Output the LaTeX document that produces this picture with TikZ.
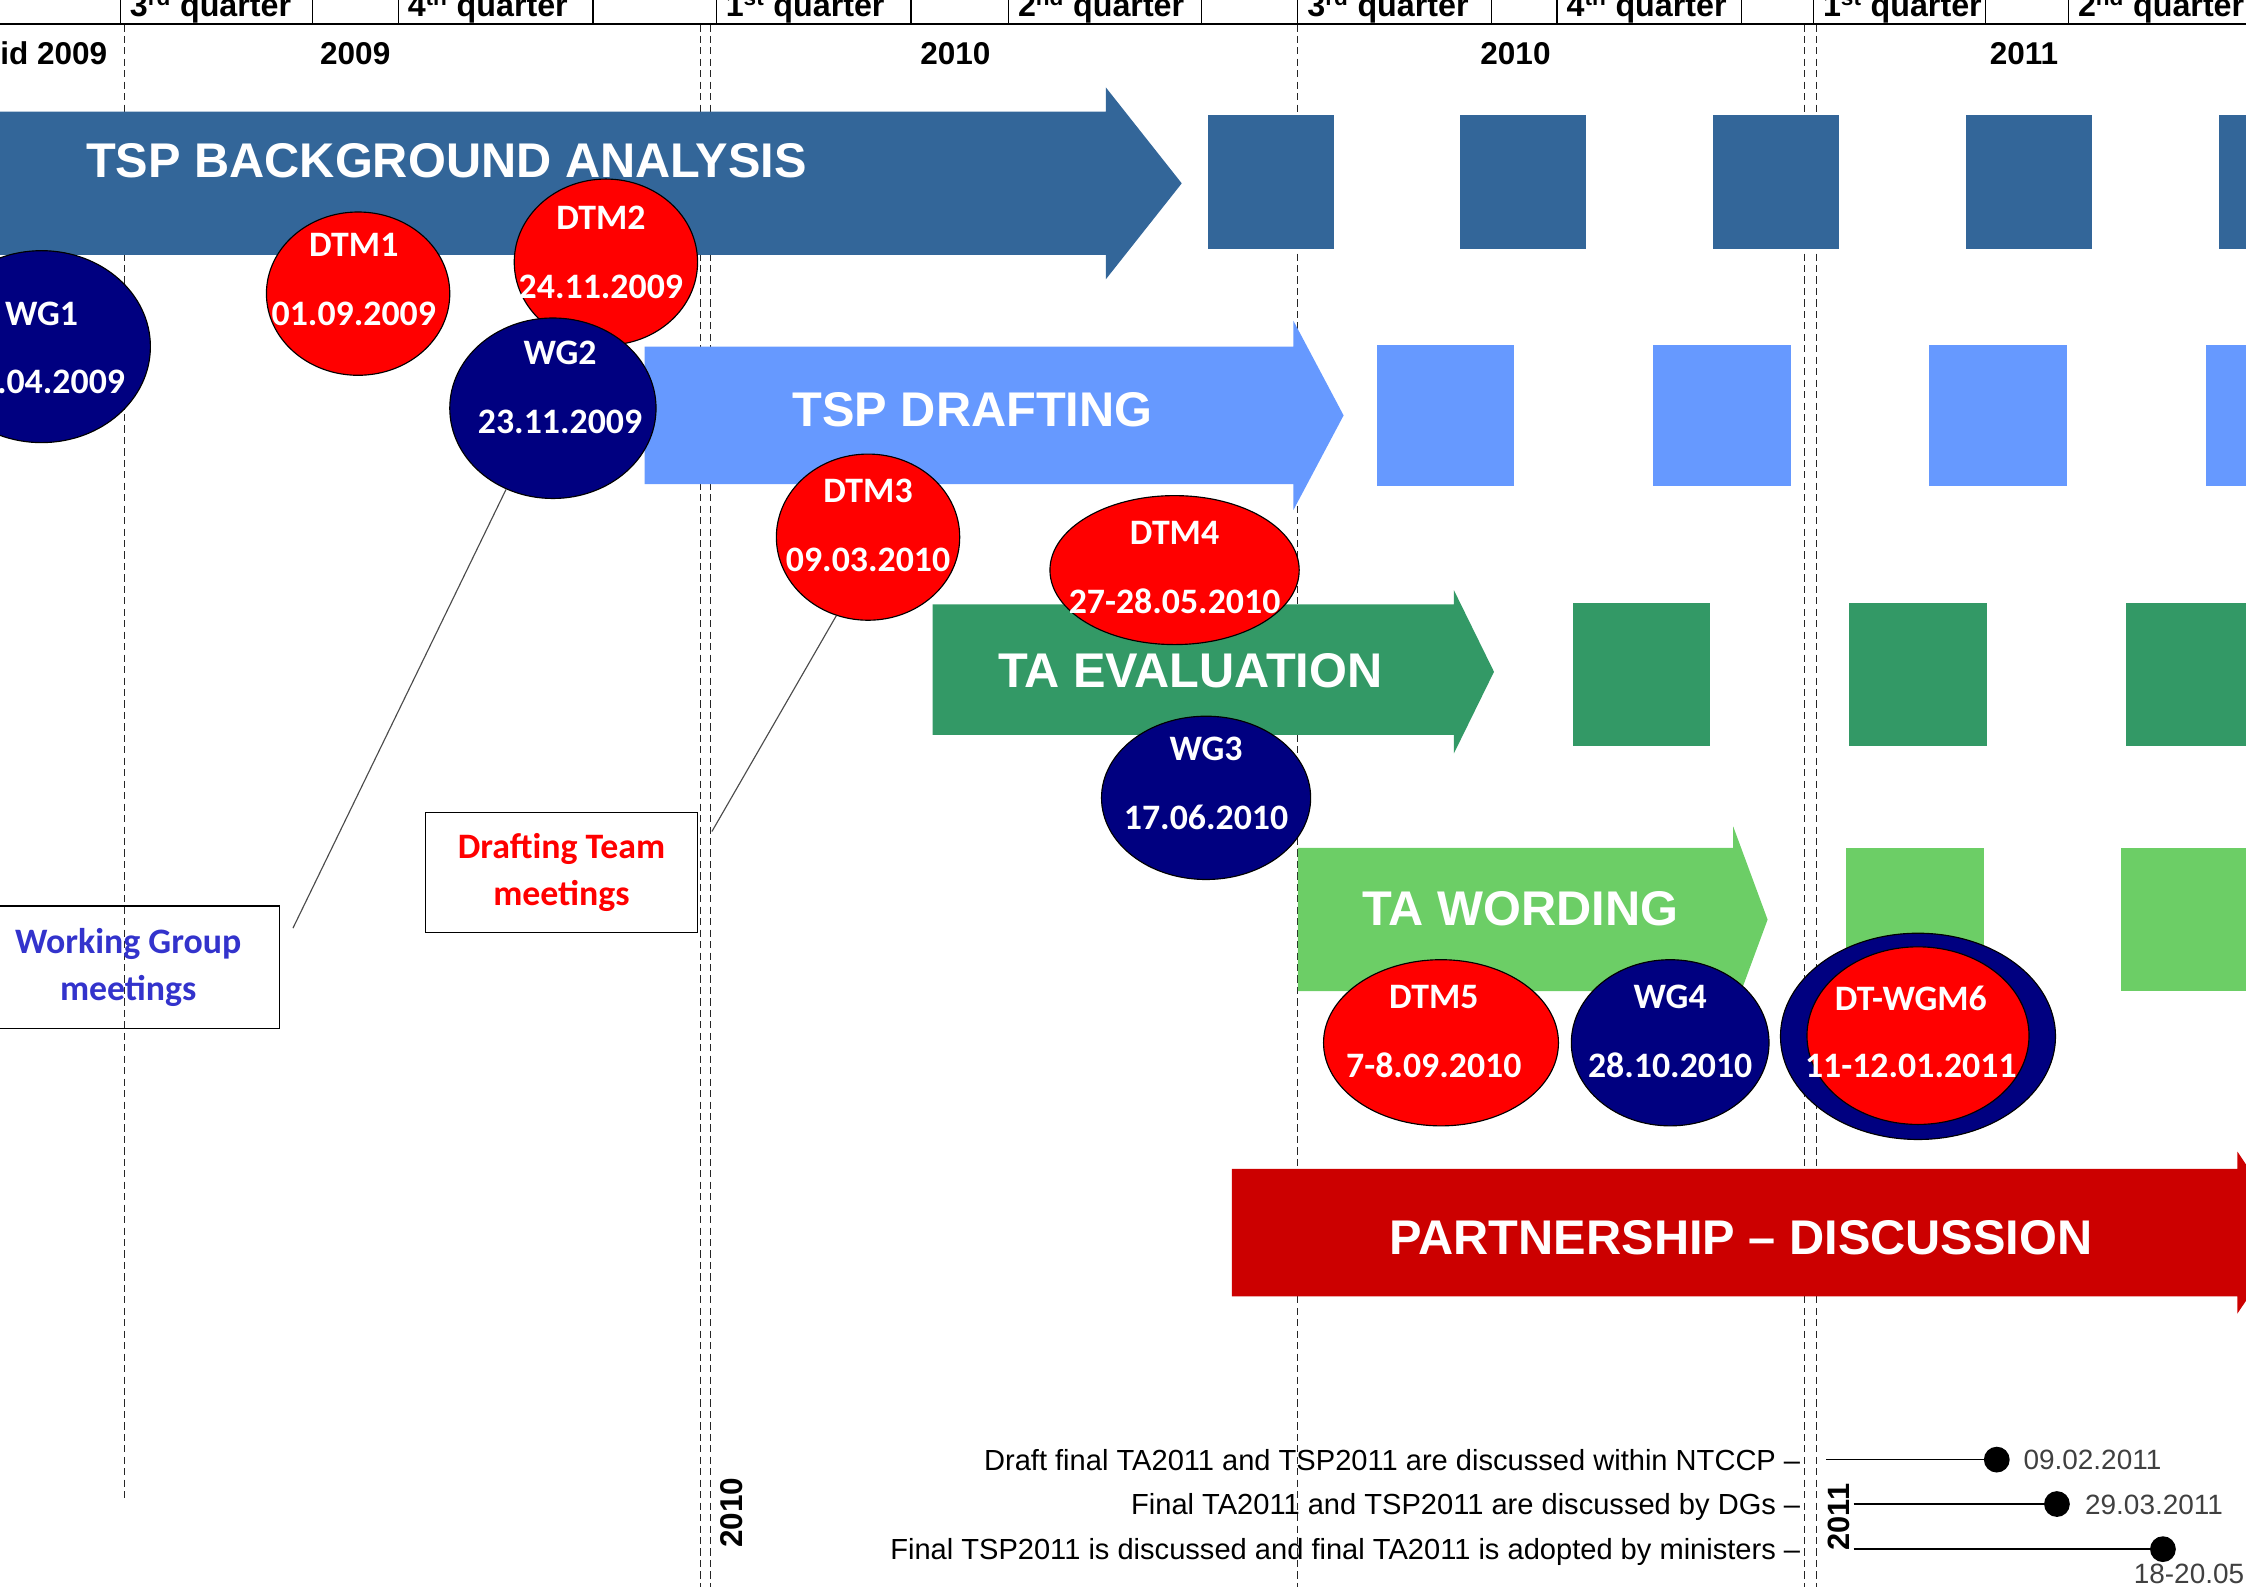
\documentclass[tikz,border=0pt]{standalone}
\usepackage{fontspec}
\setmainfont{Liberation Sans}
\newfontfamily\carlitofont{Carlito}
\usetikzlibrary{shapes.geometric}

\definecolor{bgblue}{RGB}{51,102,153}
\definecolor{draftblue}{RGB}{102,153,255}
\definecolor{evalgreen}{RGB}{51,153,102}
\definecolor{wordgreen}{RGB}{108,206,102}
\definecolor{partred}{RGB}{204,0,0}
\definecolor{wgnavy}{RGB}{0,0,128}
\definecolor{dtred}{RGB}{255,0,0}
\definecolor{wgtext}{RGB}{51,51,204}
\definecolor{datetext}{RGB}{64,64,64}

\begin{document}
\begin{tikzpicture}[x=1pt,y=-1pt,
  gridline/.style={black!85, line width=0.9pt, dash pattern=on 5pt off 3pt},
  qlabel/.style={anchor=base west, inner sep=0, font=\bfseries\fontsize{22.5}{26}\selectfont},
  ylabel/.style={anchor=base, inner sep=0, font=\bfseries\fontsize{22}{26}\selectfont},
  phasetext/.style={anchor=base, inner sep=0, text=white, font=\bfseries\fontsize{34}{40}\selectfont},
  meet/.style={ellipse, inner sep=0, draw=black, line width=0.8pt},
  wgm/.style={meet, fill=wgnavy},
  dtm/.style={meet, fill=dtred},
  mtext/.style={inner sep=0, align=center, text=white, font=\carlitofont\bfseries\fontsize{25}{48}\selectfont},
  notebox/.style={draw=black, line width=0.8pt, inner sep=0, align=center, font=\carlitofont\bfseries\fontsize{25}{33}\selectfont},
  lead/.style={black!70, line width=0.8pt},
  mstone/.style={anchor=base east, inner sep=0, font=\fontsize{20.3}{24}\selectfont},
  mdate/.style={anchor=base west, inner sep=0, text=datetext, font=\fontsize{19.5}{24}\selectfont},
  mline/.style={black, line width=1.2pt},
  mdot/.style={circle, fill=black, inner sep=0, minimum size=18pt},
  vyear/.style={rotate=90, inner sep=0, font=\bfseries\fontsize{22}{26}\selectfont},
]
\useasboundingbox (0,0) rectangle (1568,1108);
\clip (0,0) rectangle (1568,1108);

% ---------- time grid ----------
\draw[gridline] (87,17) -- (87,1048);
\draw[gridline] (489,17) -- (489,1108);
\draw[gridline] (496,17) -- (496,1108);
\draw[gridline] (906,17) -- (906,1108);
\draw[gridline] (1260,17) -- (1260,1108);
\draw[gridline] (1268,17) -- (1268,1108);

% ---------- header ----------
\draw[line width=1.6pt] (0,17) -- (1568,17);
\foreach \x in {84,218,278,414,500,636,704,839,906,1041,1087,1216,1266,1386,1444}
  \draw[line width=0.9pt] (\x,0) -- (\x,17);
\node[qlabel] (q1) at (90.5,11.6)   {3\textsuperscript{rd} quarter};
\node[qlabel] (q2) at (284.5,11.6)  {4\textsuperscript{th} quarter};
\node[qlabel] (q3) at (506.5,11.6)  {1\textsuperscript{st} quarter};
\node[qlabel] (q4) at (710.5,11.6)  {2\textsuperscript{nd} quarter};
\node[qlabel] (q5) at (912.5,11.6)  {3\textsuperscript{rd} quarter};
\node[qlabel] (q6) at (1093.5,11.6) {4\textsuperscript{th} quarter};
\node[qlabel] (q7) at (1272.5,11.6) {1\textsuperscript{st} quarter};
\node[qlabel] (q8) at (1450.5,11.6) {2\textsuperscript{nd} quarter};

\node[ylabel, anchor=base east] (y0) at (75,45) {id 2009};
\node[ylabel] (y1) at (248,45)  {2009};
\node[ylabel] (y2) at (667,45)  {2010};
\node[ylabel] (y3) at (1058,45) {2010};
\node[ylabel] (y4) at (1413,45) {2011};

% ---------- phase arrows and continuation blocks ----------
\fill[bgblue] (-5,78) -- (772,78) -- (772,61) -- (825,128) -- (772,195) -- (772,178) -- (-5,178) -- cycle;
\foreach \x in {843,1019.5,1196,1372.5,1549}
  \fill[bgblue] (\x,80) rectangle ++(88,94);
\node[phasetext, anchor=base west] (pbg) at (60,124) {TSP BACKGROUND ANALYSIS};

\fill[draftblue] (450,242) -- (903,242) -- (903,224) -- (938,290) -- (903,356) -- (903,338) -- (450,338) -- cycle;
\foreach \x in {961,1154,1347,1540}
  \fill[draftblue] (\x,241) rectangle ++(96,98);
\node[phasetext] (pdr) at (679,298) {TSP DRAFTING};

\fill[evalgreen] (651,422) -- (1015,422) -- (1015,412) -- (1043,469) -- (1015,526) -- (1015,513) -- (651,513) -- cycle;
\foreach \x in {1098,1291,1484}
  \fill[evalgreen] (\x,421) rectangle ++(96,100);
\node[phasetext] (pev) at (831,480) {TA EVALUATION};

\fill[wordgreen] (906,592) -- (1210,592) -- (1210,577) -- (1234,642) -- (1210,707) -- (1210,692) -- (906,692) -- cycle;
\foreach \x in {1289,1481}
  \fill[wordgreen] (\x,592) rectangle ++(96,100);
\node[phasetext] (pwo) at (1061.5,646) {TA WORDING};

\fill[partred] (860,816) -- (1562,816) -- (1562,804) -- (1600,860.5) -- (1562,917) -- (1562,905) -- (860,905) -- cycle;
\node[phasetext] (ppa) at (1215.5,876) {PARTNERSHIP \textendash\ DISCUSSION};

% ---------- meetings ----------
\node[wgm, minimum width=152pt, minimum height=134pt] (wg1) at (29,242) {};
\node[mtext] (wg1a) at (29,218.8) {WG1};
\node[mtext, anchor=base east] (wg1b) at (87.5,274.4) {.04.2009};

\node[dtm, minimum width=128pt, minimum height=114pt] (dtm1) at (250,205) {};
\node[mtext] (dtm1t) at (247,195) {DTM1\\01.09.2009};

\node[dtm, minimum width=128pt, minimum height=116pt] (dtm2) at (423,183) {};
\node[mtext] (dtm2t) at (419.5,176) {DTM2\\24.11.2009};

\node[wgm, minimum width=144pt, minimum height=126pt] (wg2) at (386,285) {};
\node[mtext] (wg2t) at (391,270.5) {WG2\\23.11.2009};

\node[dtm, minimum width=128pt, minimum height=116pt] (dtm3) at (606,375) {};
\node[mtext] (dtm3t) at (606,367) {DTM3\\09.03.2010};

\node[dtm, minimum width=174pt, minimum height=104pt] (dtm4) at (820,398) {};
\node[mtext] (dtm4t) at (820,396) {DTM4\\27-28.05.2010};

\node[wgm, minimum width=146pt, minimum height=114pt] (wg3) at (842,557) {};
\node[mtext] (wg3t) at (842,547) {WG3\\17.06.2010};

\node[dtm, minimum width=164pt, minimum height=116pt] (dtm5) at (1006,728) {};
\node[mtext] (dtm5t) at (1001,720) {DTM5\\7-8.09.2010};

\node[wgm, minimum width=138pt, minimum height=116pt] (wg4) at (1166,728) {};
\node[mtext] (wg4t) at (1166,720) {WG4\\28.10.2010};

\node[wgm, minimum width=192pt, minimum height=144pt] (dtwg6) at (1339,723.5) {};
\node[dtm, minimum width=155pt, minimum height=124pt] (dtwg6in) at (1339,723) {};
\node[mtext, font=\carlitofont\bfseries\fontsize{25}{46.5}\selectfont] (dtwg6t) at (1334,720.3) {DT-WGM6\\11-12.01.2011};

% ---------- legend boxes with leaders ----------
\node[notebox, text=dtred, minimum width=190pt, minimum height=84pt] (dtbox) at (392,609) {Drafting Team\\meetings};
\node[notebox, text=wgtext, minimum width=211pt, minimum height=85.5pt] (wgbox) at (89.5,675.25) {Working Group\\meetings};
\coordinate (dttip) at (497,580.5);
\coordinate (wgtip) at (204.5,648);
\draw[lead] (dtm3.248) -- (dttip);
\draw[lead] (wg2.240) -- (wgtip);

% ---------- year marks at the foot ----------
\node[vyear] (v2010) at (511,1056) {2010};
\node[vyear, font=\bfseries\fontsize{21.5}{26}\selectfont] (v2011) at (1284,1059) {2011};

% ---------- final milestones ----------
\node[mstone] (ms1) at (1257,1026.3) {Draft final TA2011 and TSP2011 are discussed within NTCCP \textendash};
\node[mstone] (ms2) at (1257,1057.3) {Final TA2011 and TSP2011 are discussed by DGs \textendash};
\node[mstone] (ms3) at (1257,1088.8) {Final TSP2011 is discussed and final TA2011 is adopted by ministers \textendash};

\coordinate (s1) at (1275,1019);
\coordinate (s2) at (1294,1050);
\coordinate (s3) at (1294,1081.5);
\node[mdot] (d1) at (1394,1019) {};
\node[mdot] (d2) at (1436,1050) {};
\node[mdot] (d3) at (1510,1081.5) {};
\draw[mline] (s1) -- (d1);
\draw[mline] (s2) -- (d2);
\draw[mline] (s3) -- (d3);

\node[mdate] (t1) at (1412.5,1026) {09.02.2011};
\node[mdate] (t2) at (1455.5,1057) {29.03.2011};
\node[mdate] (t3) at (1489.5,1105.5) {18-20.05.};
\end{tikzpicture}
\end{document}
